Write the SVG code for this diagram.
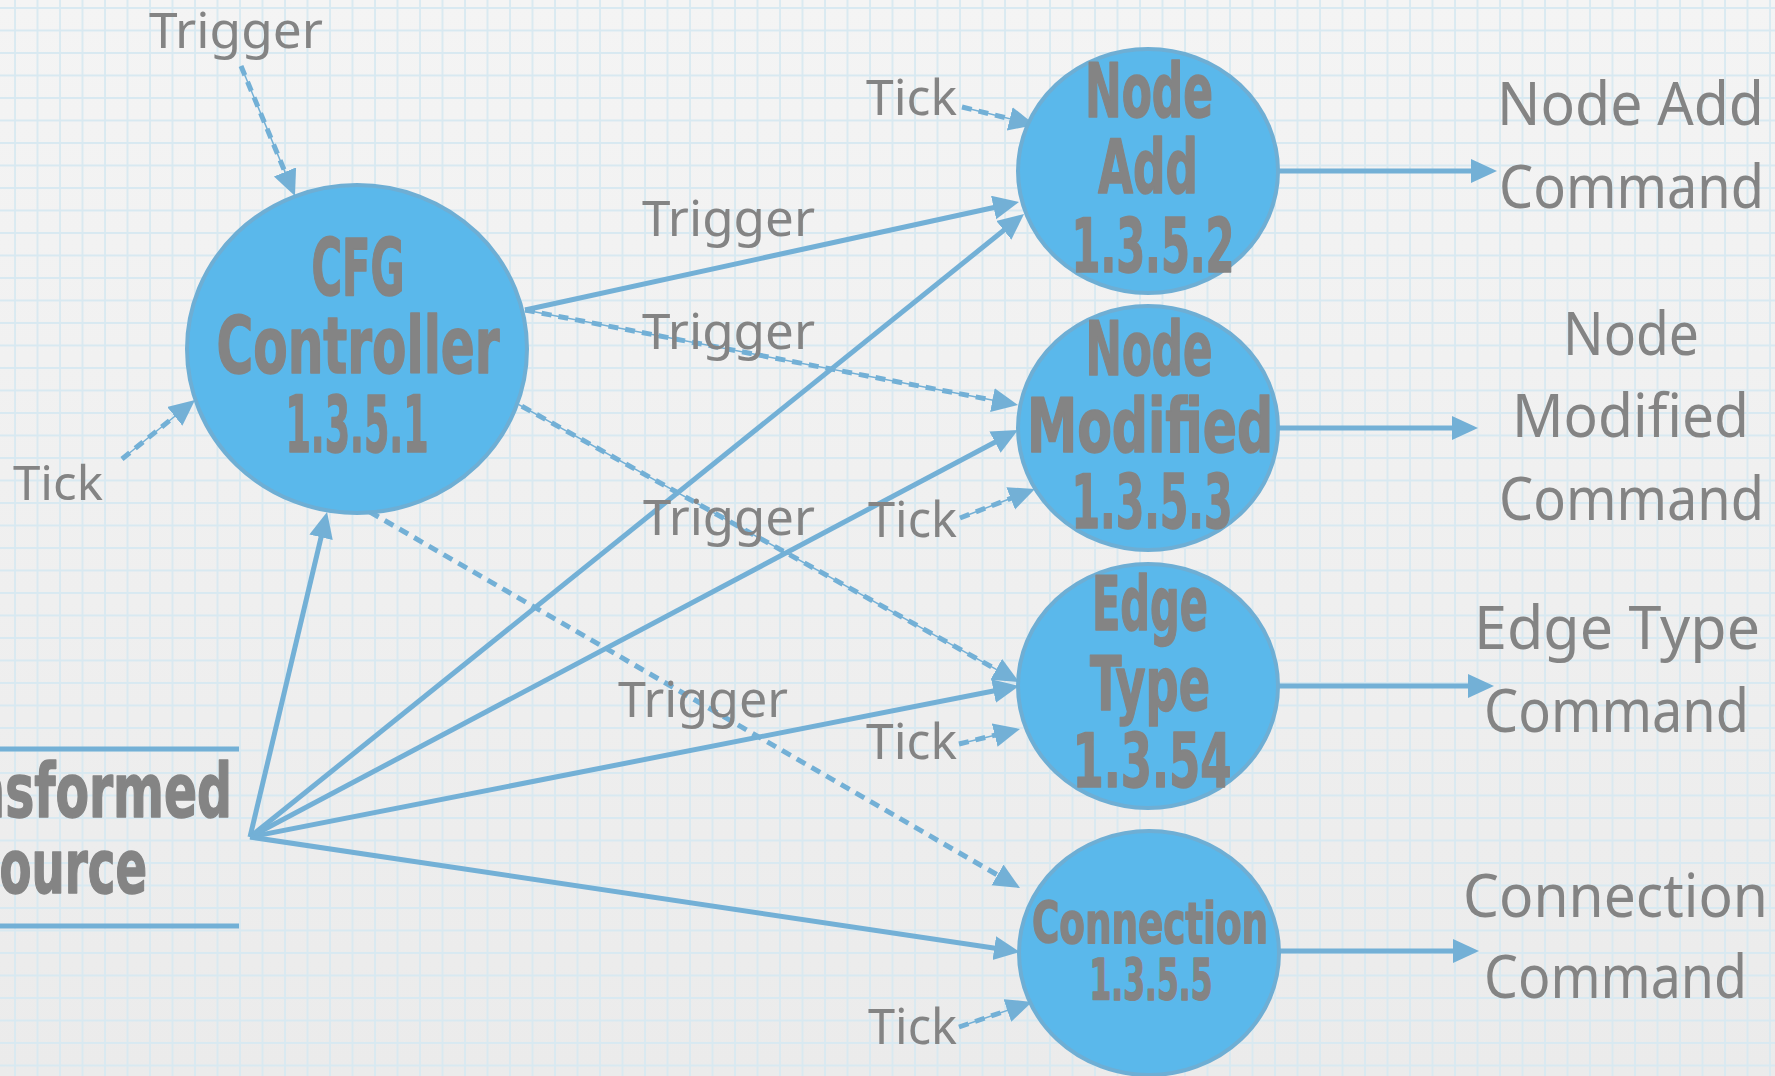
<svg xmlns="http://www.w3.org/2000/svg" width="1775" height="1076" viewBox="0 0 1775 1076">
  <defs>
    <linearGradient id="paper" x1="0" y1="0" x2="0" y2="1">
      <stop offset="0" stop-color="#f4f4f4"/>
      <stop offset="1" stop-color="#ebebeb"/>
    </linearGradient>
    <pattern id="grid" x="14" y="7" width="22.5" height="22.5" patternUnits="userSpaceOnUse">
      <path d="M0,1 H22.5 M1,0 V22.5" stroke="#d8e9f1" stroke-width="1.8" fill="none"/>
    </pattern>
    <marker id="head" markerUnits="userSpaceOnUse" markerWidth="30" markerHeight="30" refX="18" refY="12" orient="auto">
      <path d="M0,0 L26,12 L0,24 Z" fill="#73b0d6"/>
    </marker>
    <style>
      .node ellipse { fill: #5ab8eb; stroke: #6eaed4; stroke-width: 4; }
      .ntxt { font-family: "Liberation Sans Narrow", "DejaVu Sans Condensed", "Liberation Sans", sans-serif; font-weight: bold; fill: #848484; stroke: #848484; stroke-width: 1.5; stroke-linejoin: round; text-anchor: middle; }
      .lbl { font-family: "Noto Sans", "DejaVu Sans", sans-serif; fill: #848484; }
      .solid { stroke: #73b0d6; stroke-width: 5; fill: none; }
      .dash { stroke: #73b0d6; stroke-width: 5; stroke-dasharray: 10 7; fill: none; }
      .thin { stroke: #73b0d6; stroke-width: 1.5; fill: none; }
      .rule { stroke: #73b0d6; stroke-width: 5; }
    </style>
  </defs>

  <!-- graph paper background -->
  <rect width="1775" height="1076" fill="url(#paper)"/>
  <rect width="1775" height="1076" fill="url(#grid)"/>

  <!-- connectors -->
  <g id="connectors">
    <!-- fan from the transformed source -->
    <line class="solid" x1="250" y1="837" x2="325.2" y2="519.8" marker-end="url(#head)"/>
    <line class="solid" x1="250" y1="837" x2="1017.8" y2="219" marker-end="url(#head)"/>
    <line class="solid" x1="250" y1="837" x2="1010.9" y2="433.7" marker-end="url(#head)"/>
    <line class="solid" x1="250" y1="837" x2="1011.2" y2="687.5" marker-end="url(#head)"/>
    <line class="solid" x1="250" y1="837" x2="1012.1" y2="950.8" marker-end="url(#head)"/>
    <!-- controller triggers -->
    <line class="solid" x1="525" y1="310" x2="1011.2" y2="203.7" marker-end="url(#head)"/>
    <line class="thin" x1="525" y1="310" x2="1010.1" y2="403.5"/>
    <line class="dash" x1="525" y1="310" x2="1010.1" y2="403.5" marker-end="url(#head)"/>
    <line class="thin" x1="507" y1="398" x2="1012" y2="678.1"/>
    <line class="dash" x1="507" y1="398" x2="1012" y2="678.1" marker-end="url(#head)"/>
    <line class="dash" x1="370" y1="512" x2="1013.1" y2="884" marker-end="url(#head)"/>
    <!-- inputs to the controller -->
    <line class="thin" x1="241" y1="66" x2="291.9" y2="188.6"/>
    <line class="dash" x1="241" y1="66" x2="291.9" y2="188.6" marker-end="url(#head)"/>
    <line class="thin" x1="122" y1="459" x2="188.8" y2="405"/>
    <line class="dash" x1="122" y1="459" x2="188.8" y2="405" marker-end="url(#head)"/>
    <!-- ticks -->
    <line class="thin" x1="962" y1="107" x2="1027.2" y2="123.1"/>
    <line class="dash" x1="962" y1="107" x2="1027.2" y2="123.1" marker-end="url(#head)"/>
    <line class="thin" x1="960" y1="518" x2="1027.5" y2="491.9"/>
    <line class="dash" x1="960" y1="518" x2="1027.5" y2="491.9" marker-end="url(#head)"/>
    <line class="thin" x1="959" y1="744" x2="1012.2" y2="730.9"/>
    <line class="dash" x1="959" y1="744" x2="1012.2" y2="730.9" marker-end="url(#head)"/>
    <line class="thin" x1="959" y1="1027" x2="1024.4" y2="1004.6"/>
    <line class="dash" x1="959" y1="1027" x2="1024.4" y2="1004.6" marker-end="url(#head)"/>
    <!-- command outputs -->
    <line class="solid" x1="1278" y1="171" x2="1489" y2="171" marker-end="url(#head)"/>
    <line class="solid" x1="1278" y1="428" x2="1470" y2="428" marker-end="url(#head)"/>
    <line class="solid" x1="1278" y1="686" x2="1486" y2="686" marker-end="url(#head)"/>
    <line class="solid" x1="1279" y1="951" x2="1471" y2="951" marker-end="url(#head)"/>
  </g>

  <!-- transformed source -->
  <g id="source">
    <line class="rule" x1="0" y1="749" x2="239" y2="749"/>
    <line class="rule" x1="0" y1="926" x2="239" y2="926"/>
    <text class="ntxt" style="text-anchor:start" x="-114" y="817" font-size="75" textLength="346" lengthAdjust="spacingAndGlyphs">Transformed</text>
    <text class="ntxt" style="text-anchor:start" x="-34" y="893" font-size="75" textLength="181" lengthAdjust="spacingAndGlyphs">Source</text>
  </g>

  <!-- processing nodes -->
  <g id="cfg-controller" class="node">
    <ellipse cx="357" cy="349" rx="170" ry="164"/>
    <text class="ntxt" x="358" y="295" font-size="79" textLength="93" lengthAdjust="spacingAndGlyphs">CFG</text>
    <text class="ntxt" x="358" y="373" font-size="79" textLength="283" lengthAdjust="spacingAndGlyphs">Controller</text>
    <text class="ntxt" x="357" y="452" font-size="79" textLength="143" lengthAdjust="spacingAndGlyphs">1.3.5.1</text>
  </g>

  <g id="node-add" class="node">
    <ellipse cx="1148" cy="171" rx="130" ry="122"/>
    <text class="ntxt" x="1149" y="117" font-size="75" textLength="128" lengthAdjust="spacingAndGlyphs">Node</text>
    <text class="ntxt" x="1148" y="193" font-size="75" textLength="100" lengthAdjust="spacingAndGlyphs">Add</text>
    <text class="ntxt" x="1153" y="272" font-size="75" textLength="163" lengthAdjust="spacingAndGlyphs">1.3.5.2</text>
  </g>

  <g id="node-modified" class="node">
    <ellipse cx="1148" cy="428" rx="130" ry="122"/>
    <text class="ntxt" x="1149" y="375" font-size="75" textLength="127" lengthAdjust="spacingAndGlyphs">Node</text>
    <text class="ntxt" x="1150" y="452" font-size="75" textLength="246" lengthAdjust="spacingAndGlyphs">Modified</text>
    <text class="ntxt" x="1152" y="528" font-size="75" textLength="161" lengthAdjust="spacingAndGlyphs">1.3.5.3</text>
  </g>

  <g id="edge-type" class="node">
    <ellipse cx="1148" cy="686" rx="130" ry="122"/>
    <text class="ntxt" x="1150" y="630" font-size="75" textLength="116" lengthAdjust="spacingAndGlyphs">Edge</text>
    <text class="ntxt" x="1150" y="710" font-size="75" textLength="120" lengthAdjust="spacingAndGlyphs">Type</text>
    <text class="ntxt" x="1152" y="787" font-size="75" textLength="159" lengthAdjust="spacingAndGlyphs">1.3.54</text>
  </g>

  <g id="connection" class="node">
    <ellipse cx="1149" cy="953" rx="130" ry="122"/>
    <text class="ntxt" x="1150" y="943" font-size="57" textLength="236" lengthAdjust="spacingAndGlyphs">Connection</text>
    <text class="ntxt" x="1151" y="1000" font-size="57" textLength="123" lengthAdjust="spacingAndGlyphs">1.3.5.5</text>
  </g>

  <!-- connector labels -->
  <g id="labels" class="lbl">
    <text x="149" y="48" font-size="50" textLength="174" lengthAdjust="spacingAndGlyphs">Trigger</text>
    <text x="13" y="500" font-size="48" textLength="90" lengthAdjust="spacingAndGlyphs">Tick</text>
    <text x="642" y="236" font-size="50" textLength="173" lengthAdjust="spacingAndGlyphs">Trigger</text>
    <text x="642" y="349" font-size="50" textLength="173" lengthAdjust="spacingAndGlyphs">Trigger</text>
    <text x="643" y="535" font-size="50" textLength="172" lengthAdjust="spacingAndGlyphs">Trigger</text>
    <text x="618" y="717" font-size="50" textLength="170" lengthAdjust="spacingAndGlyphs">Trigger</text>
    <text x="866" y="115" font-size="50" textLength="91" lengthAdjust="spacingAndGlyphs">Tick</text>
    <text x="868" y="537" font-size="50" textLength="89" lengthAdjust="spacingAndGlyphs">Tick</text>
    <text x="866" y="759" font-size="50" textLength="91" lengthAdjust="spacingAndGlyphs">Tick</text>
    <text x="868" y="1044" font-size="50" textLength="89" lengthAdjust="spacingAndGlyphs">Tick</text>
  </g>

  <!-- command outputs -->
  <g id="commands" class="lbl">
    <text x="1497" y="125" font-size="60" textLength="267" lengthAdjust="spacingAndGlyphs">Node Add</text>
    <text x="1499" y="208" font-size="60" textLength="265" lengthAdjust="spacingAndGlyphs">Command</text>
    <text x="1563" y="355" font-size="60" textLength="136" lengthAdjust="spacingAndGlyphs">Node</text>
    <text x="1512" y="437" font-size="60" textLength="237" lengthAdjust="spacingAndGlyphs">Modified</text>
    <text x="1499" y="520" font-size="60" textLength="265" lengthAdjust="spacingAndGlyphs">Command</text>
    <text x="1474" y="649" font-size="60" textLength="286" lengthAdjust="spacingAndGlyphs">Edge Type</text>
    <text x="1484" y="732" font-size="60" textLength="265" lengthAdjust="spacingAndGlyphs">Command</text>
    <text x="1463" y="917" font-size="60" textLength="305" lengthAdjust="spacingAndGlyphs">Connection</text>
    <text x="1484" y="998" font-size="60" textLength="263" lengthAdjust="spacingAndGlyphs">Command</text>
  </g>
</svg>
